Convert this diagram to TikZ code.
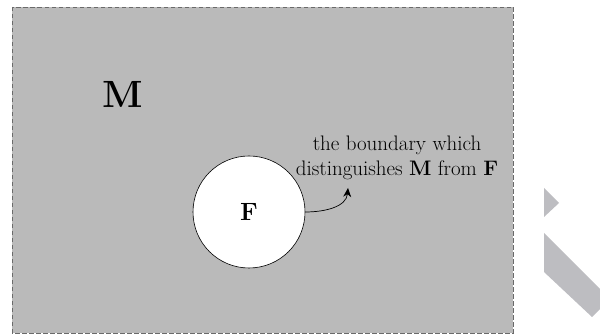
\documentclass[tikz,border=0pt]{standalone}
\usetikzlibrary{arrows.meta}
\definecolor{sheetgray}{HTML}{BABABA}
\definecolor{edgegray}{HTML}{6A6A6A}
\definecolor{markgray}{HTML}{BDBDC1}
\tikzset{
	setlabel/.style={font=\fontsize{38}{40}\selectfont\bfseries, inner sep=0pt},
	notelabel/.style={font=\fontsize{21}{25}\selectfont, align=center, inner sep=0pt}
}

\begin{document}
\begin{tikzpicture}[x=1pt, y=-1pt]
			%%%%% START %%%%%
			\useasboundingbox (0, 0) rectangle (600, 336);
			
			\draw[fill=sheetgray, draw=edgegray, dash pattern=on 4.5pt off 2.5pt, line width=0.9pt] (12, 7) rectangle (513, 333);
			
			\node[setlabel] (M) at (123, 94) {M};
			
			\node[circle, draw, fill=white, line width=0.6pt, minimum size=112pt, inner sep=0pt,
				font=\fontsize{25}{25}\selectfont\bfseries] (F) at (249, 212) {F};
			
			\node[notelabel] (note) at (397, 158) {the boundary which\\distinguishes \textbf{M} from \textbf{F}};
			\coordinate (tip) at (348, 188);
			\draw[-{Stealth[length=9pt, width=8pt]}, line width=0.7pt] (F.east) to[out=0, in=-95] (tip);
			
			\fill[markgray] (544, 188) -- (559, 203) -- (544, 217) -- cycle;
			\fill[markgray] (544, 233) -- (600, 289) -- (600, 309) -- (592, 317) -- (544, 272) -- cycle;
			%%%%% END %%%%%
		\end{tikzpicture}
\end{document}
